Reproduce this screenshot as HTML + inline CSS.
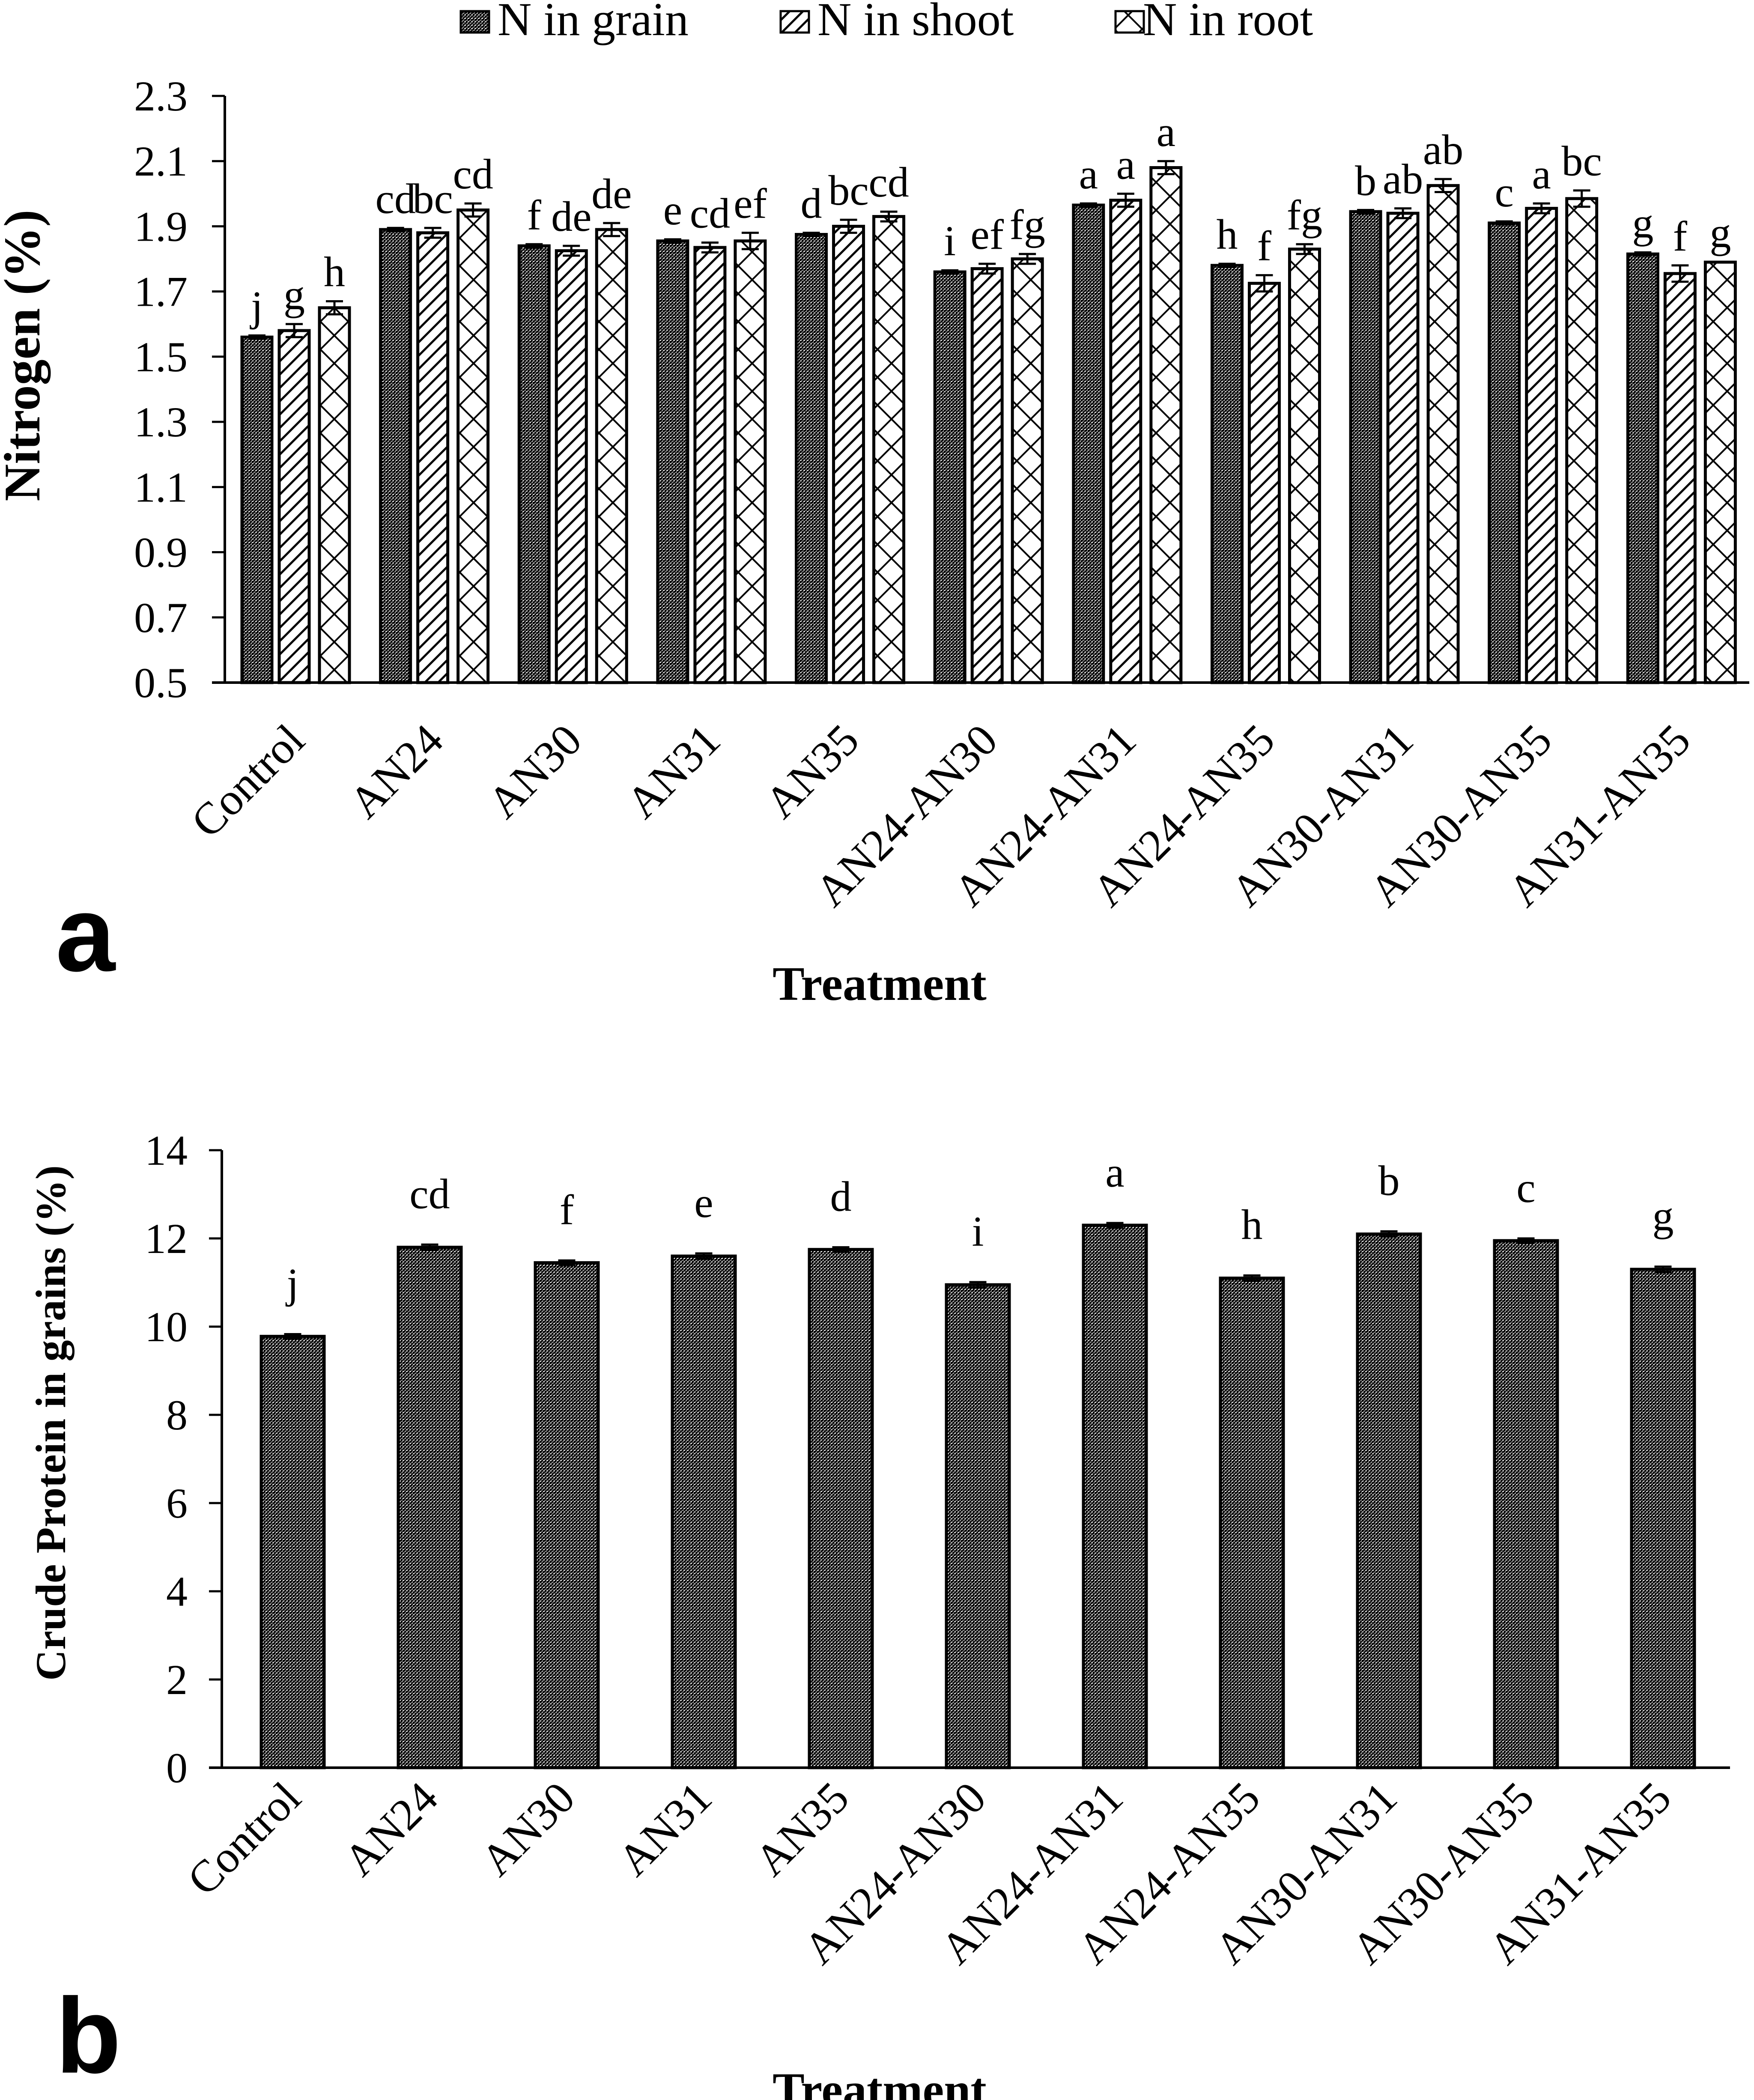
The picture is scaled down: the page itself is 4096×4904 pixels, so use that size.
<!DOCTYPE html>
<html><head><meta charset="utf-8"><style>
html,body{margin:0;padding:0;background:#fff;}
svg{display:block;}
text{font-family:"Liberation Serif",serif;fill:#000;}
</style></head><body>
<svg id="svg" xmlns="http://www.w3.org/2000/svg" width="4096" height="4904" viewBox="0 0 4096 4904">
<defs>
<pattern id="pGrain" patternUnits="userSpaceOnUse" width="8" height="8"><rect width="8" height="8" fill="#fff"/><rect x="0" y="0" width="4" height="4" fill="#000"/><rect x="4" y="4" width="4" height="4" fill="#000"/><rect x="0" y="4" width="3" height="3" fill="#000"/><rect x="4" y="0" width="3" height="2" fill="#000"/></pattern>
<pattern id="pShoot" patternUnits="userSpaceOnUse" width="22" height="22" patternTransform="rotate(45)"><rect width="22" height="22" fill="#fff"/><rect x="0" y="0" width="5" height="22" fill="#000"/></pattern>
<pattern id="pRoot" patternUnits="userSpaceOnUse" width="46" height="46" patternTransform="rotate(45)"><rect width="46" height="46" fill="#fff"/><rect x="0" y="0" width="4" height="46" fill="#000"/><rect x="0" y="0" width="46" height="4" fill="#000"/></pattern>
</defs>
<g id="legend">
<g><rect x="1076" y="26" width="66" height="50" fill="url(#pGrain)" stroke="#000" stroke-width="5"/><text x="1162" y="82" font-size="110">N in grain</text></g>
<g><rect x="1823" y="26" width="66" height="50" fill="url(#pShoot)" stroke="#000" stroke-width="5"/><text x="1909" y="82" font-size="110">N in shoot</text></g>
<g><rect x="2605" y="26" width="66" height="50" fill="url(#pRoot)" stroke="#000" stroke-width="5"/><text x="2669" y="82" font-size="110">N in root</text></g>
</g>
<g id="chartA"></g>
<g id="chartB"></g>
</svg>
<script>
const categories = ["Control","AN24","AN30","AN31","AN35","AN24-AN30","AN24-AN31","AN24-AN35","AN30-AN31","AN30-AN35","AN31-AN35"];
const grainN = [1.56,1.89,1.84,1.855,1.875,1.76,1.965,1.78,1.945,1.91,1.815];
const grainErr = [0.005,0.005,0.005,0.005,0.005,0.005,0.005,0.005,0.005,0.005,0.005];
const shootN = [1.58,1.88,1.825,1.835,1.90,1.77,1.98,1.725,1.94,1.955,1.755];
const shootErr = [0.02,0.015,0.015,0.015,0.02,0.015,0.02,0.025,0.015,0.015,0.025];
const rootN = [1.65,1.95,1.89,1.855,1.93,1.80,2.08,1.83,2.025,1.985,1.79];
const rootErr = [0.02,0.02,0.02,0.025,0.015,0.015,0.02,0.015,0.02,0.025,0];
const grainLetters = ["j","cd","f","e","d","i","a","h","b","c","g"];
const shootLetters = ["g","bc","de","cd","bc","ef","a","f","ab","a","f"];
const rootLetters = ["h","cd","de","ef","cd","fg","a","fg","ab","bc","g"];
const ticksA = ["0.5","0.7","0.9","1.1","1.3","1.5","1.7","1.9","2.1","2.3"];
const protein = [9.78,11.8,11.45,11.6,11.75,10.95,12.3,11.1,12.1,11.95,11.3];
const proteinErr = [0.05,0.06,0.05,0.06,0.05,0.06,0.05,0.06,0.06,0.05,0.06];
const proteinLetters = ["j","cd","f","e","d","i","a","h","b","c","g"];
const ticksB = ["0","2","4","6","8","10","12","14"];

const NS="http://www.w3.org/2000/svg";
function mk(parent,tag,attrs,txt){const e=document.createElementNS(NS,tag);for(const k in attrs)e.setAttribute(k,attrs[k]);if(txt!==undefined)e.textContent=txt;parent.appendChild(e);return e;}

function drawAxes(g,x0,x1,yTop,yBot,ticks,yOf){
  const ax=mk(g,'line',{x1:x0,y1:yTop,x2:x0,y2:yBot,stroke:'#000','stroke-width':6});
  
  
  const bx=mk(g,'line',{x1:x0-30,y1:yBot,x2:x1,y2:yBot,stroke:'#000','stroke-width':6});
  
  
  ticks.forEach(t=>{
    const y=yOf(parseFloat(t));
    const tl=mk(g,'line',{x1:x0-30,y1:y,x2:x0,y2:y,stroke:'#000','stroke-width':5});
    
    
    const tt=mk(g,'text',{x:438,y:y+34,'font-size':100,'text-anchor':'end'},t);
    
    
  });
}
function catLabels(g,x0,pitch,topY){
  categories.forEach((c,i)=>{
    const cx=x0+pitch*(i+0.5)+30;
    const t=mk(g,'text',{x:cx,y:topY,'font-size':105,'text-anchor':'end',transform:`rotate(-45 ${cx} ${topY})`},c);
    
    
  });
}
function errBar(g,cx,yv,ye,name){
  if(Math.abs(ye-yv)<1) return;
  const e=mk(g,'path',{d:`M${cx},${2*yv-ye}V${ye}M${cx-20},${ye}H${cx+20}M${cx-20},${2*yv-ye}H${cx+20}`,stroke:'#000','stroke-width':5,fill:'none'});
  
  
}

// Chart A
(function(){
  const g=document.getElementById('chartA');
  const x0=525,x1=4085,yTop=224,yBot=1594,vMin=0.5,vMax=2.3;
  const yOf=v=>yBot-(v-vMin)/(vMax-vMin)*(yBot-yTop);
  const pitch=(x1-x0)/categories.length;
  const series=[[grainN,grainErr,grainLetters,'url(#pGrain)',40,'grain'],[shootN,shootErr,shootLetters,'url(#pShoot)',127,'shoot'],[rootN,rootErr,rootLetters,'url(#pRoot)',221,'root']];
  categories.forEach((c,i)=>{
    series.forEach(s=>{
      const v=s[0][i],err=s[1][i];
      const bx=x0+pitch*i+s[4],bw=70,y=yOf(v);
      const r=mk(g,'rect',{x:bx,y:y,width:bw,height:yBot-y,fill:s[3],stroke:'#000','stroke-width':7});
      
      
      const ye=yOf(v+err);
      errBar(g,bx+bw/2,y,ye,'error-bar');
      const t=mk(g,'text',{x:bx+bw/2,y:ye-35,'font-size':100,'text-anchor':'middle'},s[2][i]);
      
      
    });
  });
  drawAxes(g,x0,x1,yTop,yBot,ticksA,yOf);
  catLabels(g,x0,pitch,1735);
  const yl=mk(g,'text',{x:92,y:830,'font-size':120,'font-weight':'bold','text-anchor':'middle',transform:'rotate(-90 92 830)'},'Nitrogen (%)');
  
  
  const xl=mk(g,'text',{x:2054,y:2335,'font-size':112,'font-weight':'bold','text-anchor':'middle'},'Treatment');
  
  
  const pl=mk(g,'text',{x:130,y:2267,'font-size':250,'font-weight':'bold',style:'font-family:"Liberation Sans",sans-serif'},'a');
  
  
})();

// Chart B
(function(){
  const g=document.getElementById('chartB');
  const x0=518,x1=4040,yTop=2686,yBot=4128,vMin=0,vMax=14;
  const yOf=v=>yBot-(v-vMin)/(vMax-vMin)*(yBot-yTop);
  const pitch=320;
  categories.forEach((c,i)=>{
    const v=protein[i],bx=x0+pitch*i+92,bw=147,y=yOf(v);
    const r=mk(g,'rect',{x:bx,y:y,width:bw,height:yBot-y,fill:'url(#pGrain)',stroke:'#000','stroke-width':7});
    
    
    const ye=yOf(v+proteinErr[i]);
    errBar(g,bx+bw/2,y,ye,'error-bar');
    const t=mk(g,'text',{x:bx+bw/2,y:ye-85,'font-size':100,'text-anchor':'middle'},proteinLetters[i]);
    
    
  });
  drawAxes(g,x0,x1,yTop,yBot,ticksB,yOf);
  catLabels(g,x0,pitch,4205);
  const yl=mk(g,'text',{x:152,y:3323,'font-size':100,'font-weight':'bold','text-anchor':'middle',transform:'rotate(-90 152 3323)'},'Crude Protein in grains (%)');
  
  
  const xl=mk(g,'text',{x:2054,y:4918,'font-size':112,'font-weight':'bold','text-anchor':'middle'},'Treatment');
  
  
  const pl=mk(g,'text',{x:130,y:4840,'font-size':250,'font-weight':'bold',style:'font-family:"Liberation Sans",sans-serif'},'b');
  
  
})();
</script>
</body></html>
